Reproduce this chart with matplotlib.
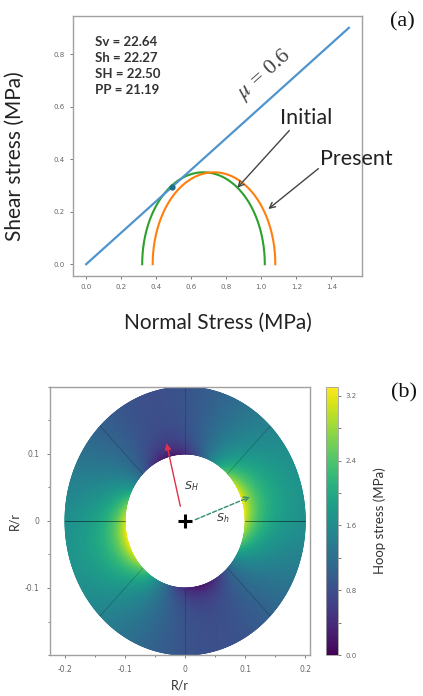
import numpy as np
import matplotlib
matplotlib.use("Agg")
import matplotlib.pyplot as plt
from matplotlib.ticker import MultipleLocator

# ---------------- data ----------------
mu = 0.6
line_x = [0.0, 1.5]
circle_names = ["Initial", "Present"]
circle_centers = [0.67, 0.73]
circle_radii = [0.35, 0.35]
circle_colors = ["#2ca02c", "#ff7f0e"]
tangent_pt = [0.49, 0.295]
stress_text = ["Sv = 22.64", "Sh = 22.27", "SH = 22.50", "PP = 21.19"]
xticks_a = [0.0, 0.2, 0.4, 0.6, 0.8, 1.0, 1.2, 1.4]
yticks_a = [0.0, 0.2, 0.4, 0.6, 0.8]
label_pos = {"Initial": (1.257, 0.555), "Present": (1.543, 0.402)}
arrow_from = {"Initial": (1.16, 0.509), "Present": (1.326, 0.364)}
arrow_to = {"Initial": (0.863, 0.291), "Present": (1.04, 0.21)}

# wellbore hoop stress panel
r_well = 0.10
r_outer = 0.20
A_mean = 1.083       # mean far-field term
B_dev = 0.38         # deviatoric far-field term
P_well = 0.417       # wellbore pressure term
SH_azimuth_deg = 105.0
vmax_b = 3.31
cbar_ticks = [0.0, 0.8, 1.6, 2.4, 3.2]
xticks_b = [-0.2, -0.1, 0.0, 0.1, 0.2]
xticklabels_b = ["-0.2", "-0.1", "0", "0.1", "0.2"]
yticks_b = [-0.1, 0.0, 0.1]
yticklabels_b = ["-0.1", "0", "0.1"]
sector_angles = [0, 45, 90, 135, 180, 225, 270, 315]
SH_arrow = [(-0.008, 0.022), (-0.031, 0.116)]
Sh_arrow = [(0.017, 0.002), (0.108, 0.036)]

fig = plt.figure(figsize=(4.23, 6.96), dpi=100)

tick_col = "#666666"
spine_col = "#a0a0a0"

# ---------------- panel (a) ----------------
ax = fig.add_axes([0.1726, 0.6034, 0.6832, 0.3736])
ax.plot(line_x, [mu * v for v in line_x], color="#4f94cd", lw=1.6, zorder=3)
th = np.linspace(0, np.pi, 300)
for c, r, col in zip(circle_centers, circle_radii, circle_colors):
    ax.plot(c + r * np.cos(th), r * np.sin(th), color=col, lw=1.5, zorder=2)
ax.plot([tangent_pt[0]], [tangent_pt[1]], "o", color="#1f6f8b", ms=3.5, zorder=4)
ax.set_xlim(-0.075, 1.575)
ax.set_ylim(-0.045, 0.945)
ax.set_xticks(xticks_a)
ax.set_yticks(yticks_a)
ax.set_xticklabels([f"{v:.1f}" for v in xticks_a])
ax.set_yticklabels([f"{v:.1f}" for v in yticks_a])
ax.tick_params(labelsize=5, colors=tick_col, length=2.5, width=0.6)
for s in ax.spines.values():
    s.set_color(spine_col)
    s.set_linewidth(1.0)
ax.set_xlabel("Normal Stress (MPa)", family="Lato", fontsize=15, color="#222222", labelpad=16)
ax.set_ylabel("Shear stress (MPa)", family="Lato", fontsize=15, color="#222222")
ax.yaxis.set_label_coords(-0.166, 0.46)
ax.text(0.05, 0.755, "\n".join(stress_text), family="Lato", fontweight="bold",
        fontsize=9.5, color="#333333", linespacing=1.42, va="center", ha="left",
        transform=ax.transData)
ax.text(1.02, 0.72, r"$\mu$ = 0.6", family="Liberation Serif", fontsize=16,
        rotation=42, ha="center", va="center", color="#444444",
        math_fontfamily="stix")
for name in circle_names:
    ax.text(*label_pos[name], name, family="Lato", fontsize=15.5, color="#222222",
            ha="center", va="center", clip_on=False)
    ax.annotate("", xy=arrow_to[name], xytext=arrow_from[name],
                arrowprops=dict(arrowstyle="->", color="#444444", lw=1.0,
                                shrinkA=0, shrinkB=0), annotation_clip=False)
fig.text(0.952, 0.968, "(a)", family="Liberation Serif", fontsize=16,
         ha="center", va="center", color="#111111")

# ---------------- panel (b) ----------------
axb = fig.add_axes([0.1182, 0.0589, 0.6147, 0.3851])
rr = np.linspace(r_well, r_outer, 120)
tt = np.linspace(0, 2 * np.pi, 721)
R, T = np.meshgrid(rr, tt)
X = R * np.cos(T)
Y = R * np.sin(T)
ang = T - np.deg2rad(SH_azimuth_deg)
k2 = (r_well / R) ** 2
k4 = k2 ** 2
S = A_mean * (1 + k2) - B_dev * (1 + 3 * k4) * np.cos(2 * ang) - P_well * k2
mesh = axb.pcolormesh(X, Y, S, cmap="viridis", vmin=0, vmax=vmax_b,
                      shading="gouraud", rasterized=True)
for a in sector_angles:
    ar = np.deg2rad(a)
    alpha = 0.55 if a in (0, 180) else 0.22
    axb.plot([r_well * np.cos(ar), r_outer * np.cos(ar)],
             [r_well * np.sin(ar), r_outer * np.sin(ar)],
             color="black", lw=0.6, alpha=alpha)
axb.annotate("", xy=SH_arrow[1], xytext=SH_arrow[0],
             arrowprops=dict(arrowstyle="-|>", color="#e0304a", lw=1.0,
                             mutation_scale=9, shrinkA=0, shrinkB=0))
axb.annotate("", xy=Sh_arrow[1], xytext=Sh_arrow[0],
             arrowprops=dict(arrowstyle="->", color="#2f8f6f", lw=1.0,
                             linestyle=(0, (3, 1.5)), mutation_scale=9,
                             shrinkA=0, shrinkB=0))
axb.text(-0.002, 0.052, r"$S_H$", fontsize=8, color="#333333", ha="left", va="center")
axb.text(0.052, 0.004, r"$S_h$", fontsize=8, color="#333333", ha="left", va="center")
axb.plot([0], [0], marker="+", color="black", ms=10, mew=2.2, zorder=5)
axb.set_xlim(-0.225, 0.208)
axb.set_ylim(-0.2, 0.2)
axb.set_xticks(xticks_b)
axb.set_xticklabels(xticklabels_b)
axb.set_yticks(yticks_b)
axb.set_yticklabels(yticklabels_b)
axb.xaxis.set_minor_locator(MultipleLocator(0.05))
axb.yaxis.set_minor_locator(MultipleLocator(0.05))
axb.tick_params(which="both", labelsize=5.5, colors=tick_col, length=2.5, width=0.6, pad=5)
axb.tick_params(which="minor", length=1.5)
for s in axb.spines.values():
    s.set_color(spine_col)
    s.set_linewidth(1.0)
axb.set_xlabel("R/r", family="Lato", fontsize=9, color="#333333", labelpad=4)
axb.set_ylabel("R/r", family="Lato", fontsize=9, color="#333333")
axb.yaxis.set_label_coords(-0.115, 0.5)

cax = fig.add_axes([0.7707, 0.0589, 0.0284, 0.3851])
cb = fig.colorbar(mesh, cax=cax, ticks=cbar_ticks)
cb.ax.set_yticklabels([f"{v:.1f}" for v in cbar_ticks])
cb.ax.yaxis.set_minor_locator(MultipleLocator(0.4))
cb.ax.tick_params(which="both", labelsize=5, colors=tick_col, length=2, width=0.6)
cb.outline.set_edgecolor(spine_col)
cb.outline.set_linewidth(0.6)
cb.set_label("Hoop stress (MPa)", family="Lato", fontsize=9.5, color="#333333", labelpad=12)
fig.text(0.955, 0.435, "(b)", family="Liberation Serif", fontsize=16,
         ha="center", va="center", color="#111111")

fig.savefig("out.png", dpi=100)
